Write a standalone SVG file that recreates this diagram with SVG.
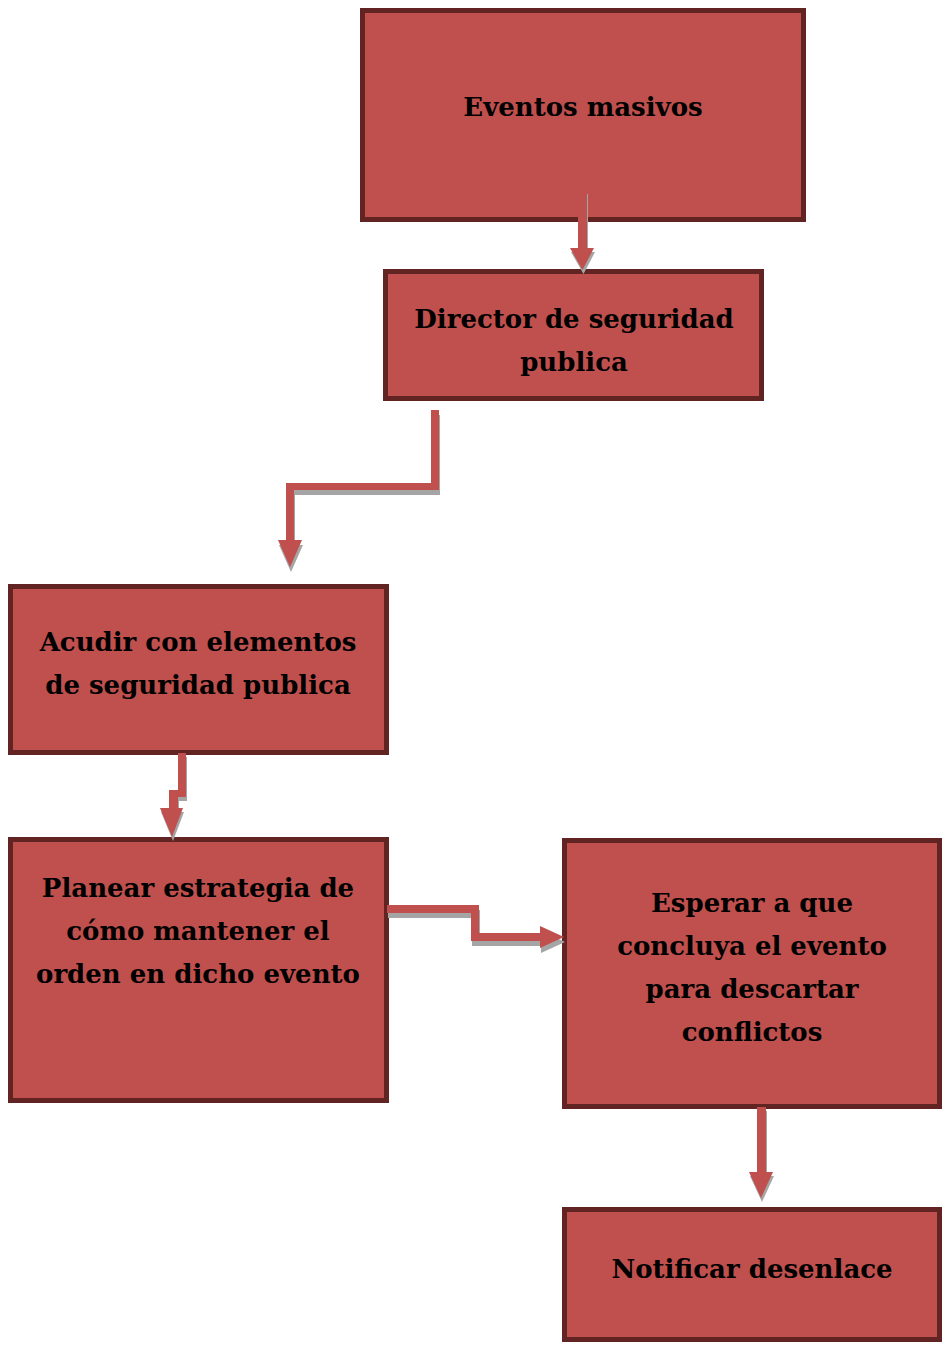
<svg xmlns="http://www.w3.org/2000/svg" width="942" height="1346" viewBox="0 0 942 1346">
<style>
.box{fill:#C0504D;stroke:#622423;stroke-width:5}
.lbl{font-family:"DejaVu Serif","Liberation Serif",serif;font-weight:bold;font-size:26px;fill:#000;text-anchor:middle}
.arr{fill:#C0504D}
.shd{fill:#A5A5A5}
</style>
<defs>
<path id="c1" d="M578,190 H587 V248 H594 L582.5,270 L570,248 H578 Z"/>
<path id="c2" d="M431,410 H439 V490 H294 V540 H302 L290,567 L278,540 H286 V483 H431 Z"/>
<path id="c3" d="M178,753 H186 V797 H178 V808 H183 L172,837 L160,808 H169 V790 H178 Z"/>
<path id="c4" d="M387,905 H479 V933 H540 V926 L564,937 L540,948 V941 H471 V913 H387 Z"/>
<path id="c5" d="M757,1107 H766 V1172 H773 L761,1198 L749,1172 H757 Z"/>
</defs>
<rect width="942" height="1346" fill="#fff"/>
<g id="n1"><rect class="box" x="362.5" y="10.5" width="441" height="209"/><text class="lbl" x="583" y="116">Eventos masivos</text></g>
<g id="n2"><rect class="box" x="385.5" y="271.5" width="376" height="127"/><text class="lbl" x="574" y="328">Director de seguridad</text><text class="lbl" x="574" y="371">publica</text></g>
<g id="n3"><rect class="box" x="10.5" y="586.5" width="376" height="166"/><text class="lbl" x="198" y="651">Acudir con elementos</text><text class="lbl" x="198" y="694">de seguridad publica</text></g>
<g id="n4"><rect class="box" x="10.5" y="839.5" width="376" height="261"/><text class="lbl" x="198" y="897">Planear estrategia de</text><text class="lbl" x="198" y="940">cómo mantener el</text><text class="lbl" x="198" y="983">orden en dicho evento</text></g>
<g id="n5"><rect class="box" x="564.5" y="840.5" width="375" height="266"/><text class="lbl" x="752" y="912">Esperar a que</text><text class="lbl" x="752" y="955">concluya el evento</text><text class="lbl" x="752" y="998">para descartar</text><text class="lbl" x="752" y="1041">conflictos</text></g>
<g id="n6"><rect class="box" x="564.5" y="1209.5" width="375" height="130"/><text class="lbl" x="752" y="1278">Notificar desenlace</text></g>
<g id="connectors">
<use href="#c1" class="shd" transform="translate(1,4)"/><use href="#c1" class="arr"/>
<use href="#c2" class="shd" transform="translate(1,5)"/><use href="#c2" class="arr"/>
<use href="#c3" class="shd" transform="translate(1,4)"/><use href="#c3" class="arr"/>
<use href="#c4" class="shd" transform="translate(1,5)"/><use href="#c4" class="arr"/>
<use href="#c5" class="shd" transform="translate(1,4)"/><use href="#c5" class="arr"/>
</g>
</svg>
